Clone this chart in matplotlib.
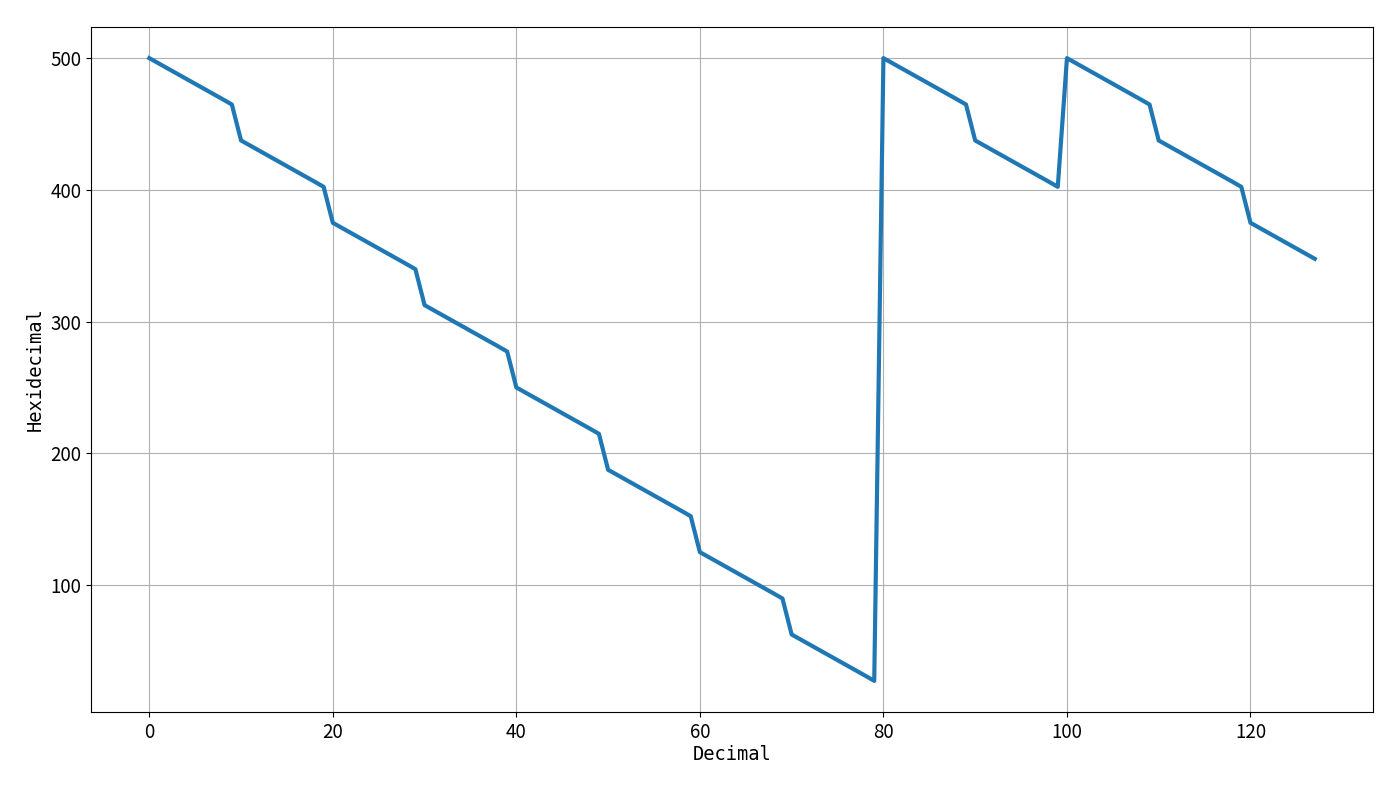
import matplotlib
matplotlib.use("Agg")
import matplotlib.pyplot as plt

decimal = list(range(128))
hexidecimal = [
    500.0, 496.1, 492.2, 488.3, 484.4, 480.5, 476.6, 472.7, 468.8, 464.8,
    437.5, 433.6, 429.7, 425.8, 421.9, 418.0, 414.1, 410.2, 406.3, 402.3,
    375.0, 371.1, 367.2, 363.3, 359.4, 355.5, 351.6, 347.7, 343.8, 339.8,
    312.5, 308.6, 304.7, 300.8, 296.9, 293.0, 289.1, 285.2, 281.3, 277.3,
    250.0, 246.1, 242.2, 238.3, 234.4, 230.5, 226.6, 222.7, 218.8, 214.8,
    187.5, 183.6, 179.7, 175.8, 171.9, 168.0, 164.1, 160.2, 156.3, 152.3,
    125.0, 121.1, 117.2, 113.3, 109.4, 105.5, 101.6, 97.7, 93.8, 89.8,
    62.5, 58.6, 54.7, 50.8, 46.9, 43.0, 39.1, 35.2, 31.3, 27.3,
    500.0, 496.1, 492.2, 488.3, 484.4, 480.5, 476.6, 472.7, 468.8, 464.8,
    437.5, 433.6, 429.7, 425.8, 421.9, 418.0, 414.1, 410.2, 406.3, 402.3,
    500.0, 496.1, 492.2, 488.3, 484.4, 480.5, 476.6, 472.7, 468.8, 464.8,
    437.5, 433.6, 429.7, 425.8, 421.9, 418.0, 414.1, 410.2, 406.3, 402.3,
    375.0, 371.1, 367.2, 363.3, 359.4, 355.5, 351.6, 347.7,
]
x_label = "Decimal"
y_label = "Hexidecimal"

fig = plt.figure(figsize=(14, 7.87), dpi=100)
ax = fig.add_axes([91/1400, 1 - 712/787, (1373-91)/1400, (712-27)/787])
ax.plot(decimal, hexidecimal, color="#1f77b4", lw=3)
ax.grid(True, color="#b0b0b0", lw=0.8)
ax.set_xlabel(x_label, family="DejaVu Sans Mono", fontsize=13.5, labelpad=2)
ax.set_ylabel(y_label, family="DejaVu Sans Mono", fontsize=13.5, labelpad=4)
ax.tick_params(labelsize=13.5)
for lab in ax.get_xticklabels() + ax.get_yticklabels():
    lab.set_family("Noto Sans CJK SC")
fig.savefig("out.png", dpi=100)
